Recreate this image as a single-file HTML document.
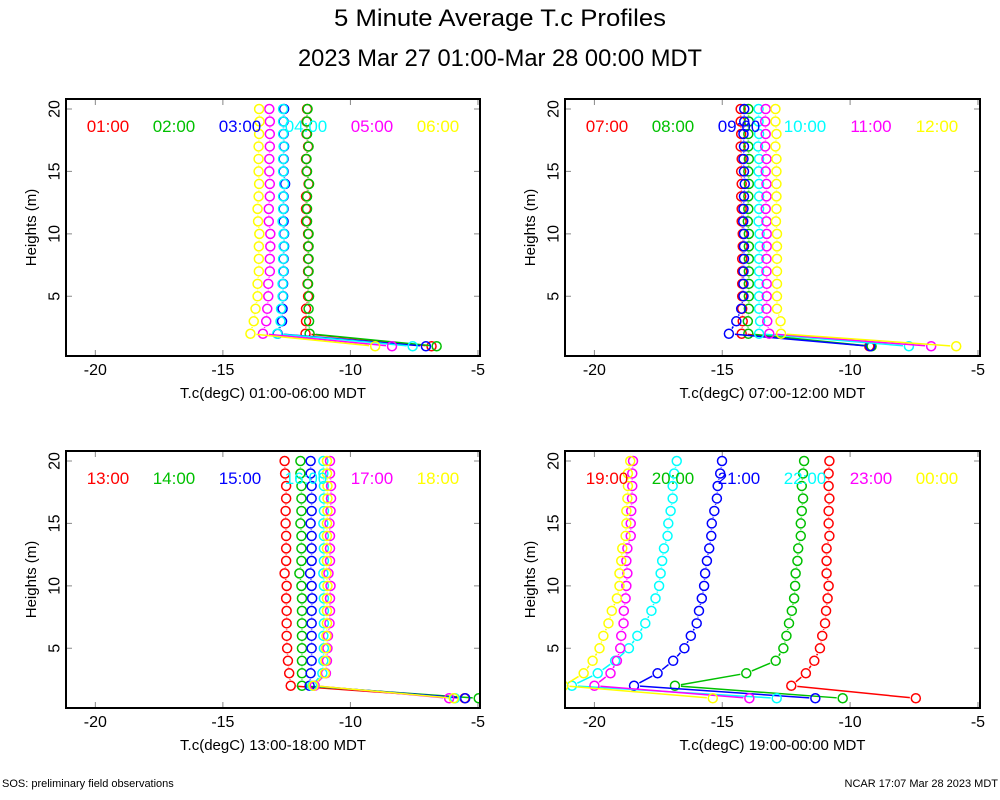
<!DOCTYPE html>
<html><head><meta charset="utf-8"><style>
html,body{margin:0;padding:0;background:#fff;}
svg{display:block;font-family:"Liberation Sans",sans-serif;}
</style></head><body>
<svg id="chart" width="1000" height="800" viewBox="0 0 1000 800">
<text x="500" y="26" text-anchor="middle" font-size="24" textLength="332" lengthAdjust="spacingAndGlyphs">5 Minute Average T.c Profiles</text>
<text x="500" y="66" text-anchor="middle" font-size="24" textLength="404" lengthAdjust="spacingAndGlyphs">2023 Mar 27 01:00-Mar 28 00:00 MDT</text>
<text x="2" y="787" font-size="11">SOS: preliminary field observations</text>
<text x="998" y="787" font-size="11" text-anchor="end">NCAR 17:07 Mar 28 2023 MDT</text>
</svg>
<script>
const heights=[1,2,3,4,5,6,7,8,9,10,11,12,13,14,15,16,17,18,19,20];
const xTicks=[-20,-15,-10,-5];
const yTicks=[5,10,15,20];
const colors=["#ff0000","#00c000","#0000ff","#00ffff","#ff00ff","#ffff00"];
const p1Labels=["01:00","02:00","03:00","04:00","05:00","06:00"];
const p1Title="T.c(degC) 01:00-06:00 MDT";
const p1s1=[-6.82,-11.76,-11.74,-11.74,-11.66,-11.68,-11.66,-11.66,-11.66,-11.66,-11.74,-11.74,-11.74,-11.64,-11.72,-11.74,-11.66,-11.72,-11.72,-11.70];
const p1s2=[-6.62,-11.60,-11.62,-11.64,-11.62,-11.66,-11.64,-11.64,-11.64,-11.64,-11.70,-11.70,-11.70,-11.62,-11.70,-11.72,-11.64,-11.70,-11.70,-11.68];
const p1s3=[-7.04,-12.85,-12.68,-12.66,-12.64,-12.64,-12.62,-12.62,-12.60,-12.60,-12.62,-12.62,-12.62,-12.56,-12.62,-12.62,-12.60,-12.62,-12.62,-12.60];
const p1s4=[-7.56,-12.87,-12.74,-12.72,-12.66,-12.66,-12.64,-12.64,-12.62,-12.62,-12.66,-12.64,-12.64,-12.60,-12.64,-12.64,-12.62,-12.64,-12.64,-12.64];
const p1s5=[-8.37,-13.43,-13.30,-13.26,-13.22,-13.22,-13.16,-13.16,-13.14,-13.14,-13.20,-13.20,-13.16,-13.16,-13.18,-13.18,-13.16,-13.16,-13.16,-13.18];
const p1s6=[-9.03,-13.92,-13.79,-13.72,-13.64,-13.64,-13.59,-13.59,-13.59,-13.57,-13.62,-13.64,-13.60,-13.58,-13.60,-13.60,-13.60,-13.58,-13.56,-13.58];
const p2Labels=["07:00","08:00","09:00","10:00","11:00","12:00"];
const p2Title="T.c(degC) 07:00-12:00 MDT";
const p2s1=[-9.25,-14.24,-14.20,-14.22,-14.22,-14.22,-14.22,-14.22,-14.20,-14.20,-14.24,-14.24,-14.26,-14.24,-14.26,-14.24,-14.28,-14.26,-14.28,-14.28];
const p2s2=[-9.16,-13.98,-14.00,-13.96,-13.96,-13.96,-13.96,-13.96,-13.96,-13.96,-14.00,-13.98,-13.98,-13.96,-13.98,-13.96,-13.98,-13.98,-13.96,-13.98];
const p2s3=[-9.21,-14.74,-14.45,-14.26,-14.17,-14.17,-14.17,-14.15,-14.15,-14.15,-14.18,-14.17,-14.15,-14.12,-14.15,-14.17,-14.15,-14.17,-14.14,-14.14];
const p2s4=[-7.70,-13.56,-13.52,-13.56,-13.56,-13.56,-13.56,-13.56,-13.54,-13.54,-13.58,-13.56,-13.56,-13.56,-13.58,-13.56,-13.60,-13.56,-13.58,-13.58];
const p2s5=[-6.83,-13.16,-13.24,-13.27,-13.26,-13.26,-13.27,-13.27,-13.26,-13.26,-13.27,-13.30,-13.27,-13.27,-13.30,-13.27,-13.32,-13.30,-13.32,-13.30];
const p2s6=[-5.85,-12.70,-12.72,-12.86,-12.86,-12.86,-12.86,-12.86,-12.86,-12.86,-12.90,-12.88,-12.88,-12.88,-12.88,-12.88,-12.92,-12.88,-12.92,-12.92];
const p3Labels=["13:00","14:00","15:00","16:00","17:00","18:00"];
const p3Title="T.c(degC) 13:00-18:00 MDT";
const p3s1=[-5.52,-12.34,-12.40,-12.45,-12.48,-12.50,-12.50,-12.50,-12.52,-12.50,-12.58,-12.52,-12.52,-12.52,-12.54,-12.54,-12.52,-12.52,-12.56,-12.58];
const p3s2=[-4.97,-11.90,-11.90,-11.90,-11.90,-11.90,-11.90,-11.90,-11.90,-11.92,-12.00,-11.92,-11.92,-11.92,-11.96,-11.92,-11.92,-11.92,-11.96,-11.96];
const p3s3=[-5.50,-11.60,-11.56,-11.52,-11.52,-11.52,-11.52,-11.52,-11.50,-11.52,-11.58,-11.52,-11.52,-11.52,-11.56,-11.52,-11.52,-11.52,-11.56,-11.56];
const p3s4=[-5.90,-11.50,-11.10,-11.06,-11.04,-11.06,-11.04,-11.04,-11.04,-11.04,-11.06,-11.04,-11.04,-11.04,-11.06,-11.04,-11.04,-11.04,-11.06,-11.06];
const p3s5=[-6.13,-11.40,-10.96,-10.92,-10.90,-10.88,-10.82,-10.80,-10.80,-10.78,-10.86,-10.80,-10.80,-10.80,-10.82,-10.78,-10.76,-10.76,-10.80,-10.80];
const p3s6=[-5.95,-11.45,-11.00,-10.98,-10.96,-10.94,-10.92,-10.92,-10.92,-10.90,-10.94,-10.92,-10.92,-10.92,-10.92,-10.90,-10.90,-10.90,-10.92,-10.92];
const p4Labels=["19:00","20:00","21:00","22:00","23:00","00:00"];
const p4Title="T.c(degC) 19:00-00:00 MDT";
const p4s1=[-7.43,-12.30,-11.73,-11.40,-11.18,-11.09,-10.98,-10.94,-10.88,-10.84,-10.92,-10.92,-10.92,-10.81,-10.84,-10.84,-10.81,-10.84,-10.84,-10.81];
const p4s2=[-10.29,-16.85,-14.06,-12.91,-12.61,-12.49,-12.39,-12.28,-12.19,-12.15,-12.13,-12.06,-12.03,-11.93,-11.93,-11.89,-11.84,-11.89,-11.84,-11.80];
const p4s3=[-11.36,-18.45,-17.53,-16.92,-16.48,-16.23,-16.00,-15.91,-15.80,-15.71,-15.67,-15.60,-15.51,-15.43,-15.41,-15.31,-15.21,-15.18,-15.08,-15.01];
const p4s4=[-12.87,-20.88,-19.87,-19.19,-18.65,-18.32,-18.01,-17.77,-17.61,-17.47,-17.41,-17.35,-17.28,-17.14,-17.11,-17.02,-16.94,-16.94,-16.88,-16.78];
const p4s5=[-13.94,-20.00,-19.37,-19.12,-18.99,-18.95,-18.86,-18.85,-18.78,-18.75,-18.71,-18.75,-18.71,-18.58,-18.58,-18.56,-18.53,-18.52,-18.52,-18.49];
const p4s6=[-15.37,-21.21,-20.42,-20.07,-19.80,-19.65,-19.45,-19.32,-19.12,-19.02,-19.02,-18.95,-18.91,-18.78,-18.75,-18.75,-18.71,-18.69,-18.69,-18.60];

const NS="http://www.w3.org/2000/svg";
const svg=document.getElementById('chart');
function mk(tag,attrs,parent){const e=document.createElementNS(NS,tag);for(const k in attrs)e.setAttribute(k,attrs[k]);(parent||svg).appendChild(e);return e;}
const XMIN=-21.15,XMAX=-4.92,YMIN=0.22,YMAX=20.8;
const panels=[
 {id:"p1",x0:66,x1:480,y0:99,y1:356,labels:p1Labels,title:p1Title,series:[p1s1,p1s2,p1s3,p1s4,p1s5,p1s6]},
 {id:"p2",x0:565,x1:980,y0:99,y1:356,labels:p2Labels,title:p2Title,series:[p2s1,p2s2,p2s3,p2s4,p2s5,p2s6]},
 {id:"p3",x0:66,x1:480,y0:451,y1:708,labels:p3Labels,title:p3Title,series:[p3s1,p3s2,p3s3,p3s4,p3s5,p3s6]},
 {id:"p4",x0:565,x1:980,y0:451,y1:708,labels:p4Labels,title:p4Title,series:[p4s1,p4s2,p4s3,p4s4,p4s5,p4s6]}
];
panels.forEach((p,pi)=>{
 const sx=v=>p.x0+(v-XMIN)/(XMAX-XMIN)*(p.x1-p.x0);
 const sy=v=>p.y1-(v-YMIN)/(YMAX-YMIN)*(p.y1-p.y0);
 const g=mk('g',{});
 
 
 const cp=mk('clipPath',{id:'clip'+pi},g);
 mk('rect',{x:p.x0,y:p.y0,width:p.x1-p.x0,height:p.y1-p.y0},cp);
 xTicks.forEach(t=>{
  const x=sx(t);
  const tk=mk('path',{d:`M${x},${p.y1}v-6M${x},${p.y0}v6`,stroke:'#888','stroke-width':1},g);
  
  
  const lb=mk('text',{x:x,y:p.y1+19,'text-anchor':'middle','font-size':16},g);
  lb.textContent=t;
  
  
 });
 yTicks.forEach(t=>{
  const y=sy(t);
  const tk=mk('path',{d:`M${p.x0},${y}h6M${p.x1},${y}h-6`,stroke:'#888','stroke-width':1},g);
  
  
  const lb=mk('text',{x:p.x0-11,y:y,'text-anchor':'middle','font-size':16,transform:`rotate(-90 ${p.x0-11} ${y})`,'dominant-baseline':'central'},g);
  lb.textContent=t;
  
  
 });
 const yl=mk('text',{x:0,y:0,'text-anchor':'middle','font-size':15,transform:`translate(${p.x0-30},${(p.y0+p.y1)/2}) rotate(-90)`},g);
 yl.textContent='Heights (m)';
 
 
 const xl=mk('text',{x:(p.x0+p.x1)/2,y:p.y1+42,'text-anchor':'middle','font-size':15},g);
 xl.textContent=p.title;
 
 
 const dg=mk('g',{'clip-path':`url(#clip${pi})`},g);
 p.series.forEach((s,si)=>{
  const sg=mk('g',{},dg);
  
  
  const pts=s.map((v,i)=>[sx(v),sy(heights[i])]);
  for(let i=0;i<pts.length-1;i++){
   const [ax,ay]=pts[i],[bx,by]=pts[i+1];
   const dx=bx-ax,dy=by-ay,L=Math.hypot(dx,dy);
   if(L<12)continue;
   const ux=dx/L,uy=dy/L,r=6;
   const ln=mk('line',{x1:ax+ux*r,y1:ay+uy*r,x2:bx-ux*r,y2:by-uy*r,stroke:colors[si],'stroke-width':1.5},sg);
   
   
  }
  pts.forEach(([x,y])=>{
   const c=mk('circle',{cx:x,cy:y,r:4.5,fill:'none',stroke:colors[si],'stroke-width':1.5},sg);
   
   
  });
 });
 p.labels.forEach((l,li)=>{
  const t=mk('text',{x:p.x0+42+li*66,y:p.y0+33,'text-anchor':'middle','font-size':17,fill:colors[li]},g);
  t.textContent=l;
  
  
 });
 const fr=mk('rect',{x:p.x0,y:p.y0,width:p.x1-p.x0,height:p.y1-p.y0,fill:'none',stroke:'#000','stroke-width':2},g);
 
 
});
</script>
</body></html>
